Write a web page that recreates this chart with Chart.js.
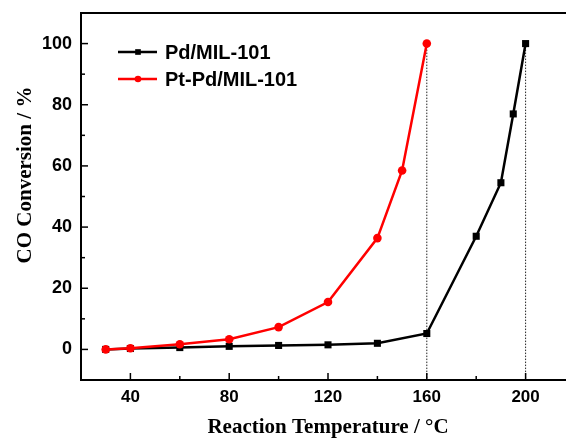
<!DOCTYPE html>
<html>
<head>
<meta charset="utf-8">
<script src="https://cdn.jsdelivr.net/npm/chart.js@4"></script>
<style>
  html, body { margin: 0; padding: 0; overflow: hidden; background: #fff; }
  #wrap { width: 590px; height: 440px; }
</style>
</head>
<body>
<div id="wrap"><canvas id="grafico_conversao"></canvas></div>
<script>
// --=| Dados
const temperaturasPd = [30, 40, 60, 80, 100, 120, 140, 160, 180, 190, 195, 200];
const conversaoPd = [0, 0.3, 0.6, 1.0, 1.3, 1.5, 2.0, 5.2, 37, 54.5, 77, 100];

const temperaturasPtPd = [30, 40, 60, 80, 100, 120, 140, 150, 160];
const conversaoPtPd = [0, 0.4, 1.7, 3.3, 7.3, 15.5, 36.4, 58.5, 100];

const rotulos = ["Pd/MIL-101", "Pt-Pd/MIL-101"];
const tituloY = "CO Conversion / %";
const linhasPontilhadas = [160, 200]; // temperaturas de 100% de conversão
const xMin = 20, xMax = 220;
const yMin = -10, yMax = 110;

const pontos = (xs, ys) => xs.map((x, i) => ({ x: x, y: ys[i] }));

const datasetsPontilhados = linhasPontilhadas.map(t => ({
  label: "",
  data: [{ x: t, y: 100 }, { x: t, y: yMin }],
  borderColor: "#222",
  borderWidth: 1,
  borderDash: [1.5, 1.5],
  pointRadius: 0,
  order: 3,
}));

// --=| Moldura, marcas dos eixos para dentro e título do eixo y
const moldura = {
  id: "moldura",
  afterDatasetsDraw(chart) {
    const { ctx, chartArea: a, scales } = chart;
    ctx.save();
    ctx.strokeStyle = "#000";
    ctx.lineWidth = 1.5;
    scales.x.ticks.forEach(t => {
      const px = scales.x.getPixelForValue(t.value);
      const len = t.value % 40 === 0 ? 7 : 4;
      ctx.beginPath();
      ctx.moveTo(px, a.bottom);
      ctx.lineTo(px, a.bottom - len);
      ctx.stroke();
    });
    scales.y.ticks.forEach(t => {
      const py = scales.y.getPixelForValue(t.value);
      const len = t.value % 20 === 0 ? 7 : 4;
      ctx.beginPath();
      ctx.moveTo(a.left, py);
      ctx.lineTo(a.left + len, py);
      ctx.stroke();
    });
    ctx.lineWidth = 2;
    ctx.strokeRect(a.left, a.top, a.right - a.left, a.bottom - a.top);

    ctx.translate(26, 175);
    ctx.rotate(-Math.PI / 2);
    ctx.font = "bold 21px 'Liberation Serif', 'Times New Roman', serif";
    ctx.fillStyle = "#000";
    ctx.textAlign = "center";
    ctx.textBaseline = "middle";
    ctx.fillText(tituloY, 0, 0);
    ctx.restore();
  },
};

// --=| Legenda com linha + marcador
const legenda = {
  id: "legenda",
  afterDraw(chart) {
    const { ctx } = chart;
    ctx.save();
    ctx.font = "bold 20px 'Liberation Sans', Arial, sans-serif";
    ctx.textBaseline = "middle";
    [0, 1].forEach(i => {
      const ds = chart.data.datasets[i];
      const y = 52 + i * 27;
      ctx.strokeStyle = ds.borderColor;
      ctx.fillStyle = ds.borderColor;
      ctx.lineWidth = 2.5;
      ctx.beginPath();
      ctx.moveTo(118, y);
      ctx.lineTo(157, y);
      ctx.stroke();
      Chart.helpers.drawPoint(ctx, {
        pointStyle: ds.pointStyle,
        radius: ds.pointRadius - 1,
        borderWidth: 0,
      }, 138, y);
      ctx.fillStyle = "#000";
      ctx.fillText(ds.label, 165, y + 1);
    });
    ctx.restore();
  },
};

const grafico = new Chart(document.getElementById("grafico_conversao"), {
  type: "line",
  data: {
    datasets: [
      {
        label: rotulos[0],
        data: pontos(temperaturasPd, conversaoPd),
        borderColor: "#000",
        backgroundColor: "#000",
        borderWidth: 2.5,
        pointStyle: "rect",
        pointRadius: 5,
        pointBorderWidth: 0,
        pointBackgroundColor: "#000",
        order: 2,
      },
      {
        label: rotulos[1],
        data: pontos(temperaturasPtPd, conversaoPtPd),
        borderColor: "#ff0000",
        backgroundColor: "#ff0000",
        borderWidth: 2.5,
        pointStyle: "circle",
        pointRadius: 4.3,
        pointBorderWidth: 0,
        pointBackgroundColor: "#ff0000",
        order: 1,
      },
      ...datasetsPontilhados,
    ],
  },
  options: {
    responsive: true,
    maintainAspectRatio: false,
    animation: false,
    layout: { padding: { top: 13, right: 15, left: 0, bottom: 0 } },
    plugins: { legend: { display: false }, tooltip: { enabled: false } },
    scales: {
      x: {
        type: "linear",
        min: xMin,
        max: xMax,
        afterFit: s => { s.height = 60; s.paddingLeft = 0; s.paddingRight = 0; },
        grid: { display: false, drawTicks: false },
        border: { display: false },
        ticks: {
          stepSize: 20,
          autoSkip: false,
          maxRotation: 0,
          padding: 7,
          color: "#000",
          font: { family: "'Liberation Sans', Arial", size: 17, weight: "bold" },
          callback: v => (v % 40 === 0 && v >= 40 && v <= 200 ? v : ""),
        },
        title: {
          display: true,
          text: "Reaction Temperature / °C",
          color: "#000",
          font: { family: "'Liberation Serif', 'Times New Roman'", size: 21, weight: "bold", lineHeight: 1.2 },
          padding: { top: 0, bottom: 0 },
        },
      },
      y: {
        min: yMin,
        max: yMax,
        afterFit: s => { s.width = 81; s.paddingTop = 0; s.paddingBottom = 0; },
        grid: { display: false, drawTicks: false },
        border: { display: false },
        ticks: {
          stepSize: 10,
          autoSkip: false,
          padding: 9,
          color: "#000",
          font: { family: "'Liberation Sans', Arial", size: 18, weight: "bold" },
          callback: v => (v % 20 === 0 && v >= 0 && v <= 100 ? v : ""),
        },
      },
    },
  },
  plugins: [moldura, legenda],
});
</script>
</body>
</html>
